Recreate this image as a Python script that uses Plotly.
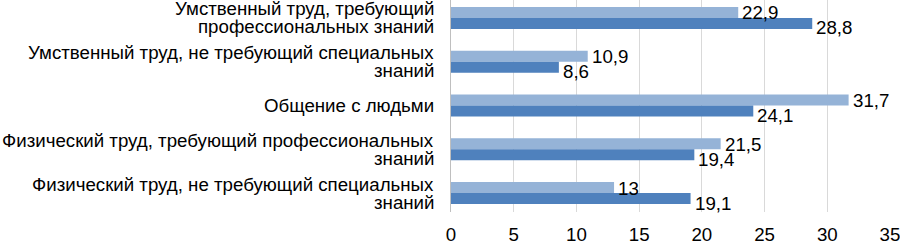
import plotly.graph_objects as go

category_lines = [
    ["Умственный труд, требующий", "профессиональных знаний"],
    ["Умственный труд, не требующий специальных", "знаний"],
    ["Общение с людьми"],
    ["Физический труд, требующий профессиональных", "знаний"],
    ["Физический труд, не требующий специальных", "знаний"],
]
categories = [" ".join(c) for c in category_lines]
series_light = [22.9, 10.9, 31.7, 21.5, 13]
series_dark = [28.8, 8.6, 24.1, 19.4, 19.1]
x_ticks = [0, 5, 10, 15, 20, 25, 30, 35]

def fmt(v):
    return f"{v:g}".replace(".", ",")

FONT = "Liberation Sans, Arial, sans-serif"
FS = 18.7
LIGHT = "#95B3D7"
DARK = "#4F81BD"

fig = go.Figure()
fig.add_trace(go.Bar(
    y=categories, x=series_light, orientation="h",
    marker=dict(color=LIGHT, line=dict(width=0)), name="A",
))
fig.add_trace(go.Bar(
    y=categories, x=series_dark, orientation="h",
    marker=dict(color=DARK, line=dict(width=0)), name="B",
))

annotations = []
# category labels, line by line
LINE_STEP = 18
for cat, lines in zip(categories, category_lines):
    n = len(lines)
    for i, line in enumerate(lines):
        off = ((n - 1) / 2 - i) * LINE_STEP
        annotations.append(dict(
            x=0, y=cat, xref="x", yref="y", text=line, showarrow=False,
            xanchor="right", yanchor="middle", xshift=-15, yshift=off,
            font=dict(size=FS, family=FONT, color="#000000"),
        ))
# value labels
for cat, v in zip(categories, series_light):
    annotations.append(dict(
        x=v, y=cat, xref="x", yref="y", text=fmt(v), showarrow=False,
        xanchor="left", yanchor="middle", xshift=2, yshift=5,
        font=dict(size=FS, family=FONT, color="#000000"),
    ))
for cat, v in zip(categories, series_dark):
    annotations.append(dict(
        x=v, y=cat, xref="x", yref="y", text=fmt(v), showarrow=False,
        xanchor="left", yanchor="middle", xshift=2, yshift=-10,
        font=dict(size=FS, family=FONT, color="#000000"),
    ))

fig.update_layout(
    width=900, height=243,
    margin=dict(l=451, r=10, t=0, b=31),
    barmode="group", bargap=0.5, bargroupgap=0,
    showlegend=False,
    plot_bgcolor="#FFFFFF", paper_bgcolor="#FFFFFF",
    font=dict(family=FONT, size=FS, color="#000000"),
    annotations=annotations,
    xaxis=dict(
        range=[0, 35], tickvals=x_ticks, ticktext=[str(t) for t in x_ticks],
        showgrid=True, gridcolor="#D9D9D9", gridwidth=1,
        zeroline=False, showline=False, ticks="",
        ticklabelstandoff=9, ticklabeloverflow="allow",
        tickfont=dict(size=FS, family=FONT), automargin=False,
    ),
    yaxis=dict(
        type="category", categoryarray=categories, categoryorder="array",
        range=[4.434, -0.41], showgrid=False, zeroline=False,
        showline=True, linecolor="#BFBFBF", linewidth=1, ticks="",
        showticklabels=False, automargin=False,
    ),
)

fig.write_html(
    "out.html",
    config={"displayModeBar": False},
    post_script="document.body.style.margin='0px';document.body.style.overflow='hidden';",
)
